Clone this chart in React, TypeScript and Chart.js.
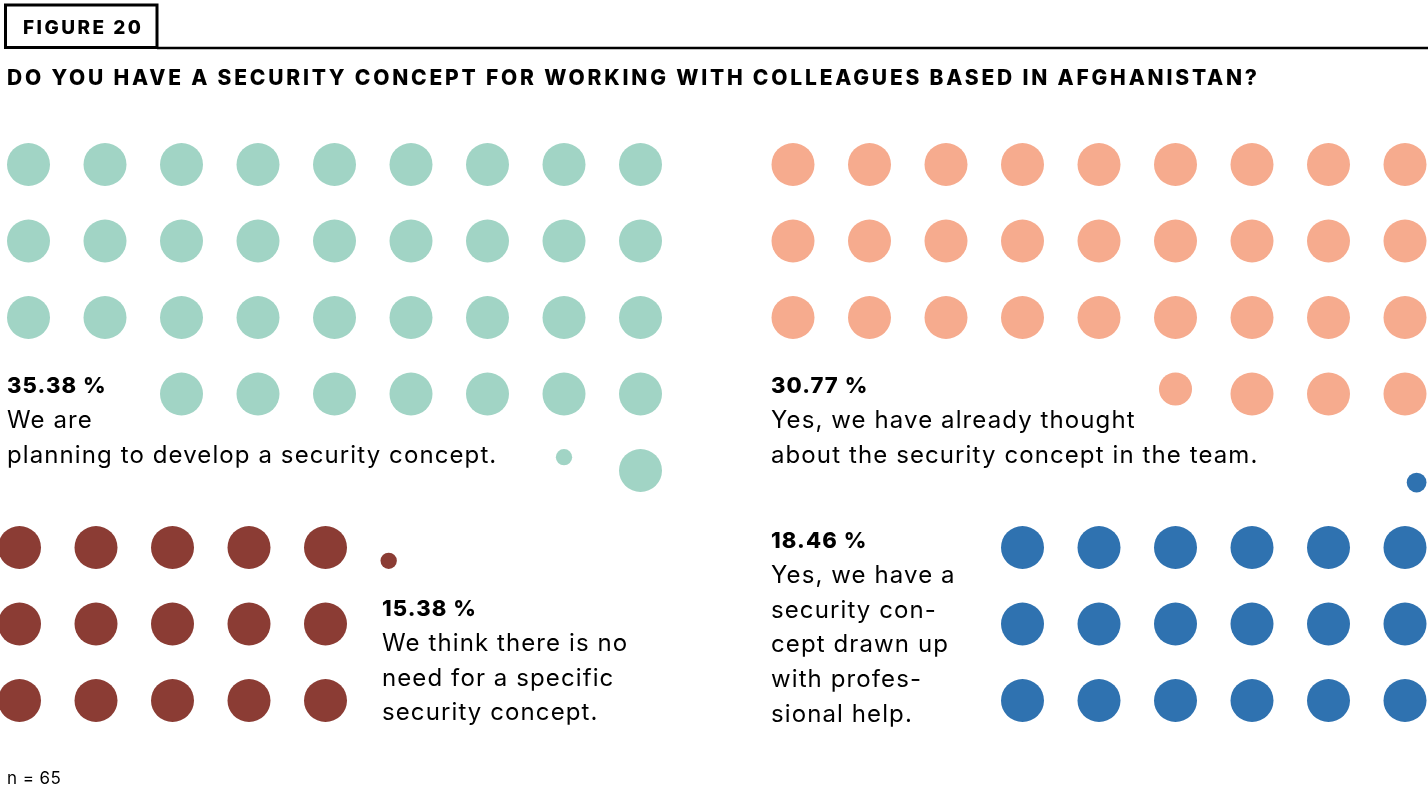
import React, { useEffect, useRef } from "react";
import { Chart, registerables } from "chart.js";

Chart.register(...registerables);

// ---------- DATA ----------
const figureLabel = "FIGURE 20";
const title = "DO YOU HAVE A SECURITY CONCEPT FOR WORKING WITH COLLEAGUES BASED IN AFGHANISTAN?";
const categories = [
  "We are planning to develop a security concept.",
  "Yes, we have already thought about the security concept in the team.",
  "We think there is no need for a specific security concept.",
  "Yes, we have a security concept drawn up with professional help.",
];
const values = [35.38, 30.77, 15.38, 18.46];
const categoryLines = [
  ["We are", "planning to develop a security concept."],
  ["Yes, we have already thought", "about the security concept in the team."],
  ["We think there is no", "need for a specific", "security concept."],
  ["Yes, we have a", "security con-", "cept drawn up", "with profes-", "sional help."],
];
const colors = ["#a1d4c5", "#f6ab8e", "#8b3c34", "#2f72b0"];
const sampleSize = 65;

// ---------- LAYOUT (positions / sizes, not data) ----------
const W = 1428;
const H = 791;
const R = 21.5;
const STEP = 76.5;
type Layout = {
  x0: number; y0: number; rows: number[]; cols: number; align: "left" | "right";
  partial: { row: number; col: number; h: "left" | "center" | "right"; v: "top" | "bottom" };
  label: { x: number; y: number };
};
const layouts: Layout[] = [
  { x0: 28.5, y0: 164.5, rows: [9, 9, 9, 7, 1], cols: 9, align: "right", partial: { row: 4, col: 7, h: "center", v: "top" }, label: { x: 7, y: 393 } },
  { x0: 793, y0: 164.5, rows: [9, 9, 9, 3], cols: 9, align: "right", partial: { row: 3, col: 5, h: "center", v: "top" }, label: { x: 771, y: 393 } },
  { x0: 19.5, y0: 547.5, rows: [5, 5, 5], cols: 5, align: "left", partial: { row: 0, col: 5, h: "left", v: "bottom" }, label: { x: 382, y: 616 } },
  { x0: 1022.5, y0: 547.5, rows: [6, 6, 6], cols: 6, align: "right", partial: { row: -1, col: 5, h: "right", v: "bottom" }, label: { x: 771, y: 548 } },
];
const LINE_H = 34.8;
const BODY_FONT = "Inter, 'Noto Sans', sans-serif";

function buildPoints(value: number, L: Layout) {
  const full = Math.floor(value + 1e-9);
  const frac = value - full;
  const pts: { x: number; y: number }[] = [];
  const radii: number[] = [];
  let remaining = full;
  L.rows.forEach((cap, r) => {
    const n = Math.min(cap, remaining);
    remaining -= n;
    for (let i = 0; i < n; i++) {
      const col = L.align === "right" ? L.cols - n + i : i;
      pts.push({ x: L.x0 + col * STEP, y: L.y0 + r * STEP });
      radii.push(R);
    }
  });
  if (frac > 0.001) {
    const pr = R * frac;
    const cx = L.x0 + L.partial.col * STEP;
    const cy = L.y0 + L.partial.row * STEP;
    const x = L.partial.h === "left" ? cx - R + pr : L.partial.h === "right" ? cx + R - pr : cx;
    const y = L.partial.v === "top" ? cy - R + pr : cy + R - pr;
    pts.push({ x, y });
    radii.push(pr);
  }
  return { pts, radii };
}

const textPlugin = {
  id: "textPlugin",
  afterDraw(chart: any) {
    const ctx: CanvasRenderingContext2D = chart.ctx;
    ctx.save();
    ctx.fillStyle = "#000";
    ctx.strokeStyle = "#000";
    // header box + rule
    ctx.lineWidth = 3;
    ctx.strokeRect(5.5, 5, 151.5, 42.5);
    ctx.lineWidth = 2.5;
    ctx.beginPath();
    ctx.moveTo(157, 48);
    ctx.lineTo(W, 48);
    ctx.stroke();

    const fitText = (text: string, x: number, y: number, font: string, targetW: number) => {
      ctx.font = font;
      (ctx as any).letterSpacing = "0px";
      const w = ctx.measureText(text).width;
      const ls = (targetW - w) / (text.length - 1);
      (ctx as any).letterSpacing = ls + "px";
      ctx.fillText(text, x, y);
      (ctx as any).letterSpacing = "0px";
    };
    const spaced = (text: string, x: number, y: number, font: string, ls: number) => {
      ctx.font = font;
      (ctx as any).letterSpacing = ls + "px";
      ctx.fillText(text, x, y);
      (ctx as any).letterSpacing = "0px";
    };
    ctx.textBaseline = "alphabetic";
    ctx.textAlign = "left";
    fitText(figureLabel, 23, 34, `800 19px ${BODY_FONT}`, 118);
    fitText(title, 7, 85, `800 21px ${BODY_FONT}`, 1250);

    values.forEach((v, i) => {
      const L = layouts[i];
      spaced(`${v.toFixed(2)} %`, L.label.x, L.label.y, `800 22px ${BODY_FONT}`, 1.1);
      categoryLines[i].forEach((line, j) => {
        spaced(line, L.label.x, L.label.y + (j + 1) * LINE_H, `400 24px ${BODY_FONT}`, 1.1);
      });
    });

    spaced(`n = ${sampleSize}`, 7, 784, `400 17px ${BODY_FONT}`, 0.4);
    ctx.restore();
  },
};

export default function App() {
  const ref = useRef<HTMLCanvasElement>(null);
  useEffect(() => {
    document.body.style.margin = "0";
    const datasets = values.map((v, i) => {
      const { pts, radii } = buildPoints(v, layouts[i]);
      return {
        label: categories[i],
        data: pts,
        pointRadius: radii,
        pointHoverRadius: radii,
        pointBackgroundColor: colors[i],
        pointBorderWidth: 0,
        borderWidth: 0,
        showLine: false,
        clip: false as any,
      };
    });
    const chart = new Chart(ref.current!, {
      type: "scatter",
      data: { datasets },
      options: {
        animation: false,
        responsive: false,
        maintainAspectRatio: false,
        layout: { padding: 0, autoPadding: false },
        events: [],
        scales: {
          x: { type: "linear", min: 0, max: W, display: false, offset: false },
          y: { type: "linear", min: 0, max: H, reverse: true, display: false, offset: false },
        },
        plugins: { legend: { display: false }, tooltip: { enabled: false } },
      },
      plugins: [textPlugin],
    });
    return () => chart.destroy();
  }, []);
  return (
    <div style={{ width: W, height: H, background: "#fff" }}>
      <canvas ref={ref} width={W} height={H} style={{ display: "block" }} />
    </div>
  );
}
